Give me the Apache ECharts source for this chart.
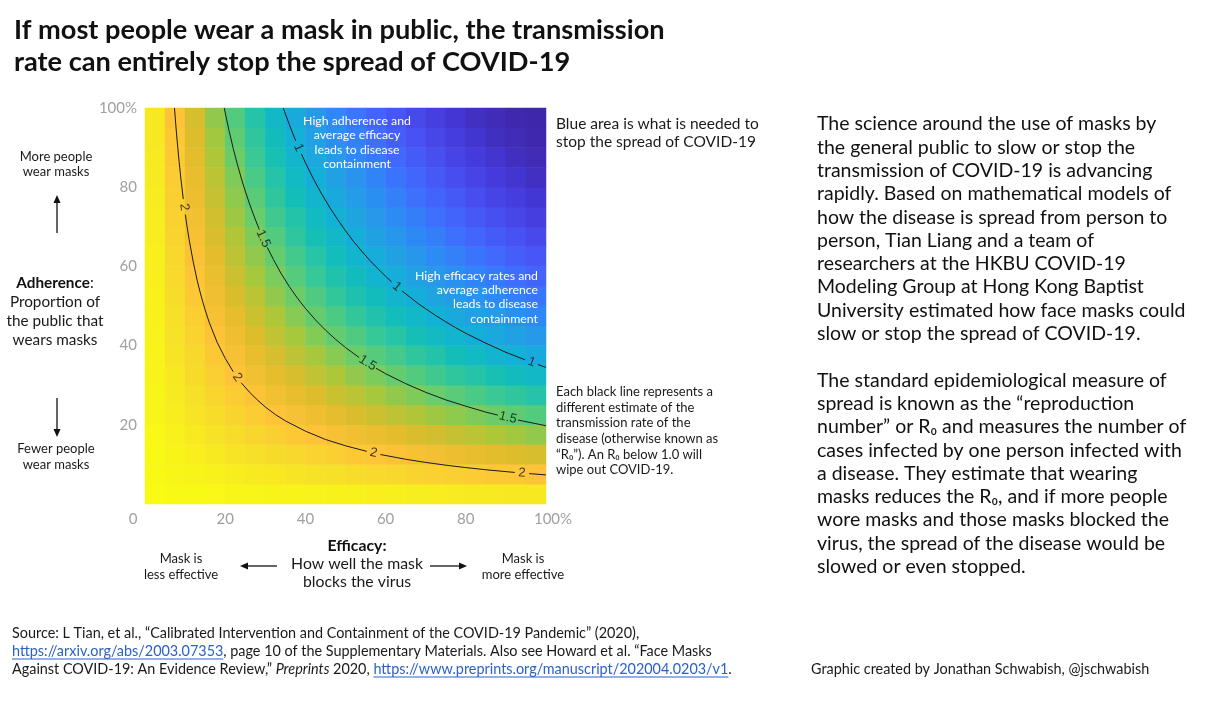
<!DOCTYPE html>
<html><head><meta charset="utf-8">
<script src="https://cdn.jsdelivr.net/npm/echarts@6/dist/echarts.min.js"></script>
<style>html,body{margin:0;padding:0;background:#fff}#c{width:1212px;height:716px}</style>
</head><body><div id="c"></div>
<script>
// ---- data ----
const efficacyCells = [2.5,7.5,12.5,17.5,22.5,27.5,32.5,37.5,42.5,47.5,52.5,57.5,62.5,67.5,72.5,77.5,82.5,87.5,92.5,97.5];
const adherenceCells = [2.5,7.5,12.5,17.5,22.5,27.5,32.5,37.5,42.5,47.5,52.5,57.5,62.5,67.5,72.5,77.5,82.5,87.5,92.5,97.5];
// R0 per cell, rows = adherence (bottom to top), columns = efficacy (left to right)
const r0Rows = [
 [2.33,2.32,2.32,2.31,2.30,2.30,2.29,2.29,2.28,2.27,2.27,2.26,2.26,2.25,2.25,2.24,2.23,2.23,2.22,2.22],
 [2.32,2.30,2.29,2.27,2.25,2.23,2.22,2.20,2.18,2.17,2.15,2.13,2.12,2.10,2.08,2.07,2.05,2.03,2.02,2.00],
 [2.32,2.29,2.26,2.23,2.20,2.17,2.14,2.12,2.09,2.06,2.03,2.01,1.98,1.95,1.93,1.90,1.87,1.85,1.82,1.80],
 [2.31,2.27,2.23,2.19,2.15,2.11,2.07,2.03,2.00,1.96,1.92,1.88,1.85,1.81,1.78,1.74,1.71,1.67,1.64,1.60],
 [2.30,2.25,2.20,2.15,2.10,2.05,2.00,1.95,1.91,1.86,1.81,1.77,1.72,1.68,1.63,1.59,1.55,1.50,1.46,1.42],
 [2.30,2.23,2.17,2.11,2.05,1.99,1.93,1.87,1.82,1.76,1.71,1.65,1.60,1.55,1.49,1.44,1.39,1.34,1.30,1.25],
 [2.29,2.22,2.14,2.07,2.00,1.93,1.86,1.80,1.73,1.67,1.60,1.54,1.48,1.42,1.36,1.30,1.25,1.19,1.14,1.09],
 [2.29,2.20,2.12,2.03,1.95,1.87,1.80,1.72,1.65,1.57,1.50,1.43,1.37,1.30,1.24,1.17,1.11,1.05,0.99,0.94],
 [2.28,2.18,2.09,2.00,1.91,1.82,1.73,1.65,1.56,1.48,1.41,1.33,1.26,1.18,1.12,1.05,0.98,0.92,0.86,0.80],
 [2.27,2.17,2.06,1.96,1.86,1.76,1.67,1.57,1.48,1.40,1.31,1.23,1.15,1.08,1.00,0.93,0.86,0.80,0.73,0.67],
 [2.27,2.15,2.03,1.92,1.81,1.71,1.60,1.50,1.41,1.31,1.22,1.14,1.05,0.97,0.89,0.82,0.75,0.68,0.62,0.56],
 [2.26,2.13,2.01,1.88,1.77,1.65,1.54,1.43,1.33,1.23,1.14,1.04,0.96,0.87,0.79,0.72,0.64,0.58,0.51,0.45],
 [2.26,2.12,1.98,1.85,1.72,1.60,1.48,1.37,1.26,1.15,1.05,0.96,0.87,0.78,0.70,0.62,0.55,0.48,0.41,0.36],
 [2.25,2.10,1.95,1.81,1.68,1.55,1.42,1.30,1.18,1.08,0.97,0.87,0.78,0.69,0.61,0.53,0.46,0.39,0.33,0.27],
 [2.25,2.08,1.93,1.78,1.63,1.49,1.36,1.24,1.12,1.00,0.89,0.79,0.70,0.61,0.52,0.45,0.38,0.31,0.25,0.20],
 [2.24,2.07,1.90,1.74,1.59,1.44,1.30,1.17,1.05,0.93,0.82,0.72,0.62,0.53,0.45,0.37,0.30,0.24,0.19,0.14],
 [2.23,2.05,1.87,1.71,1.55,1.39,1.25,1.11,0.98,0.86,0.75,0.64,0.55,0.46,0.38,0.30,0.24,0.18,0.13,0.09],
 [2.23,2.03,1.85,1.67,1.50,1.34,1.19,1.05,0.92,0.80,0.68,0.58,0.48,0.39,0.31,0.24,0.18,0.13,0.08,0.05],
 [2.22,2.02,1.82,1.64,1.46,1.30,1.14,0.99,0.86,0.73,0.62,0.51,0.41,0.33,0.25,0.19,0.13,0.08,0.05,0.02],
 [2.22,2.00,1.80,1.60,1.42,1.25,1.09,0.94,0.80,0.67,0.56,0.45,0.36,0.27,0.20,0.14,0.09,0.05,0.02,0.01]
];
// contour lines (efficacy %, adherence %); null = gap where the inline label sits
const contour2X = [7.35,7.7,8,8.5,9,9.55,null,10.05,10.5,11,12,13,14,15,16,18,20,22,null,24,26,28,30,32.5,35,40,45,50,55.3,null,58.7,65,70,75,80,85,92.2,null,95.8,100];
const contour2Y = [100,95.5,91.9,86.5,81.7,77.0,null,73.1,70.0,66.8,61.3,56.5,52.5,49.0,45.9,40.8,36.8,33.4,null,30.6,28.3,26.3,24.5,22.6,21.0,18.4,16.3,14.7,13.3,null,12.5,11.3,10.5,9.8,9.2,8.65,7.97,null,7.67,7.35];
const contour15X = [19.76,20,21,22,23,24,25,26,27,28.5,null,30.5,32,34,36,38,40,42.5,45,47.5,50,53.4,null,57.6,60,65,70,75,80,85,88,null,93,96,100];
const contour15Y = [100,98.8,94.1,89.8,85.9,82.3,79.0,76.0,73.2,69.3,null,64.8,61.8,58.1,54.9,52.0,49.4,46.5,43.9,41.6,39.5,37.0,null,34.3,32.9,30.4,28.2,26.3,24.7,23.2,22.45,null,21.2,20.6,19.76];
const contour1X = [34.49,35,36,37,37.6,null,39,40,42,44,46,48,50,52,54,56,58,60,61.5,null,64.1,66,68,70,72.5,75,77.5,80,85,90,94.8,null,98,100];
const contour1Y = [100,98.5,95.8,93.2,91.7,null,88.4,86.2,82.1,78.4,75.0,71.9,69.0,66.3,63.9,61.6,59.5,57.5,56.1,null,53.8,52.3,50.7,49.3,47.6,46.0,44.5,43.1,40.6,38.3,36.4,null,35.2,34.49];
const contourNames = ['2','1.5','1'];
const labelText = ['2','2','2','2','1.5','1.5','1.5','1','1','1'];
const labelContour = [0,0,0,0,1,1,1,2,2,2];
const labelX = [9.8,23,57,94,29.5,55.5,90.5,38.3,62.8,96.4];
const labelY = [75.0,32.0,12.9,7.82,67.0,35.6,21.8,90.0,54.9,35.8];
const axisTicks = [0,20,40,60,80,100];

// ---- styles ----
const parula = ['#3e26a8','#4539da','#4852f4','#406cfe','#2e87f7','#249ee6','#12b1d6','#12beb9','#37c897','#6bcd69','#abc739','#e1bc2b','#fec338','#f6df29','#f9fb15'];
const FONT = 'Lato, "Open Sans", sans-serif';
const GRID = {left:145, top:108, width:401, height:396, outerBoundsMode:'none'};

const contours = [{x:contour2X,y:contour2Y},{x:contour15X,y:contour15Y},{x:contour1X,y:contour1Y}];
const heatData = [];
r0Rows.forEach((row,j)=>row.forEach((v,i)=>heatData.push([i,j,v])));

function txt(x,y,text,o){
  o=o||{};
  return {type:'text', z:100, style:Object.assign({x:x,y:y,text:text,fontFamily:FONT,fontSize:12,fill:'#1a1a1a',textAlign:'left',textVerticalAlign:'top'},o)};
}
function arrow(x1,y1,x2,y2){
  const ang=Math.atan2(y2-y1,x2-x1), L=8, W=3.5;
  const bx=x2-L*Math.cos(ang), by=y2-L*Math.sin(ang);
  return [
    {type:'line', z:100, shape:{x1:x1,y1:y1,x2:bx,y2:by}, style:{stroke:'#111',lineWidth:1.3}},
    {type:'polygon', z:100, shape:{points:[[x2,y2],[bx+W*Math.sin(ang),by-W*Math.cos(ang)],[bx-W*Math.sin(ang),by+W*Math.cos(ang)]]}, style:{fill:'#111'}}
  ];
}
// measure text for link underlines
const mctx = document.createElement('canvas').getContext('2d');
function mw(t,font){mctx.font=font;return mctx.measureText(t).width;}
const FS = 14.4;
const fReg = FS+'px '+FONT, fIt = 'italic '+FS+'px '+FONT;
const link1 = 'https://arxiv.org/abs/2003.07353';
const link2 = 'https://www.preprints.org/manuscript/202004.0203/v1';
const pre3a = 'Against COVID-19: An Evidence Review,\u201d ';
const pre3b = 'Preprints';
const pre3c = ' 2020, ';
const l1w = mw(link1,fReg);
const l2x = 12 + mw(pre3a,fReg) + mw(pre3b,fIt) + mw(pre3c,fReg);
const l2w = mw(link2,fReg);
const LINK = '#2a62c9';

const graphics = [
  txt(14,14,'If most people wear a mask in public, the transmission\nrate can entirely stop the spread of COVID-19',{fontSize:27.2,fontWeight:'bold',lineHeight:32,fill:'#111'}),
  txt(817,112.4,'The science around the use of masks by\nthe general public to slow or stop the\ntransmission of COVID-19 is advancing\nrapidly. Based on mathematical models of\nhow the disease is spread from person to\nperson, Tian Liang and a team of\nresearchers at the HKBU COVID-19\nModeling Group at Hong Kong Baptist\nUniversity estimated how face masks could\nslow or stop the spread of COVID-19.\n\nThe standard epidemiological measure of\nspread is known as the \u201creproduction\nnumber\u201d or R\u2080 and measures the number of\ncases infected by one person infected with\na disease. They estimate that wearing\nmasks reduces the R\u2080, and if more people\nwore masks and those masks blocked the\nvirus, the spread of the disease would be\nslowed or even stopped.',{fontSize:19.5,lineHeight:23.3,fill:'#111'}),
  txt(556,115,'Blue area is what is needed to\nstop the spread of COVID-19',{fontSize:15.5,lineHeight:18}),
  txt(556,384.2,'Each black line represents a\ndifferent estimate of the\ntransmission rate of the\ndisease (otherwise known as\n\u201cR\u2080\u201d). An R\u2080 below 1.0 will\nwipe out COVID-19.',{fontSize:13,lineHeight:15.6}),
  txt(357,113.8,'High adherence and\naverage efficacy\nleads to disease\ncontainment',{fontSize:12.3,lineHeight:14.4,fill:'#ffffff',textAlign:'center'}),
  txt(538,268.5,'High efficacy rates and\naverage adherence\nleads to disease\ncontainment',{fontSize:12.3,lineHeight:14.4,fill:'#ffffff',textAlign:'right'}),
  txt(56,149.5,'More people\nwear masks',{fontSize:13,lineHeight:15,textAlign:'center'}),
  txt(55,273.5,'{b|Adherence}:\nProportion of\nthe public that\nwears masks',{fontSize:15.3,lineHeight:19,textAlign:'center',rich:{b:{fontFamily:FONT,fontSize:15.3,fontWeight:'bold',fill:'#111',lineHeight:19}}}),
  txt(56,441,'Fewer people\nwear masks',{fontSize:13,lineHeight:16,textAlign:'center'}),
  txt(357,537,'{b|Efficacy:}\nHow well the mask\nblocks the virus',{fontSize:15.8,lineHeight:18,textAlign:'center',rich:{b:{fontFamily:FONT,fontSize:15.8,fontWeight:'bold',fill:'#111',lineHeight:18}}}),
  txt(181,551,'Mask is\nless effective',{fontSize:13,lineHeight:16,textAlign:'center'}),
  txt(523,551,'Mask is\nmore effective',{fontSize:13,lineHeight:16,textAlign:'center'}),
  txt(12,624,'Source: L Tian, et al., \u201cCalibrated Intervention and Containment of the COVID-19 Pandemic\u201d (2020),',{fontSize:FS,lineHeight:18}),
  txt(12,642,'{a|'+link1+'}, page 10 of the Supplementary Materials. Also see Howard et al. \u201cFace Masks',{fontSize:FS,lineHeight:18,rich:{a:{fontFamily:FONT,fontSize:FS,fill:LINK,lineHeight:18}}}),
  txt(12,660,pre3a+'{i|'+pre3b+'}'+pre3c+'{a|'+link2+'}.',{fontSize:FS,lineHeight:18,rich:{a:{fontFamily:FONT,fontSize:FS,fill:LINK,lineHeight:18},i:{fontFamily:FONT,fontSize:FS,fontStyle:'italic',fill:'#1a1a1a',lineHeight:18}}}),
  txt(811,660,'Graphic created by Jonathan Schwabish, @jschwabish',{fontSize:FS,lineHeight:18}),
  {type:'line',z:100,shape:{x1:12,y1:659,x2:12+l1w,y2:659},style:{stroke:LINK,lineWidth:1.2}},
  {type:'line',z:100,shape:{x1:l2x,y1:677,x2:l2x+l2w,y2:677},style:{stroke:LINK,lineWidth:1.2}}
].concat(arrow(57,233,57,195), arrow(57,398,57,437), arrow(277,566,240,566), arrow(430,566,467,566));

const axisLabelX = {
  color:'#a0a0a0', fontFamily:FONT, fontSize:15, margin:8,
  formatter:v=>v===0?'{z|0}':(v===100?'{h|100%}':String(v)),
  rich:{z:{color:'#a0a0a0',fontFamily:FONT,fontSize:15,padding:[0,24,0,0]},h:{color:'#a0a0a0',fontFamily:FONT,fontSize:15,padding:[0,0,0,14]}}
};
const axisLabelY = {
  color:'#a0a0a0', fontFamily:FONT, fontSize:15, margin:8,
  formatter:v=>v===0?'':(v===100?'100%':String(v))
};

const series = [
  {type:'heatmap', xAxisIndex:0, yAxisIndex:0, data:heatData, itemStyle:{borderWidth:0}, emphasis:{disabled:true}, progressive:0}
];
contours.forEach((c,k)=>{
  series.push({type:'line', name:'R0 = '+contourNames[k], xAxisIndex:1, yAxisIndex:1, data:c.x.map((x,i)=>x===null?null:[x,c.y[i]]),
    showSymbol:false, symbol:'none', connectNulls:false, smooth:false,
    lineStyle:{color:'#1a1a1a',width:1}, silent:true, z:5});
});
series.push({type:'scatter', id:'labels', xAxisIndex:1, yAxisIndex:1, symbolSize:0, silent:true, z:6,
  data:labelX.map((x,i)=>({value:[x,labelY[i]], label:{formatter:labelText[i]}})),
  label:{show:true, position:'inside', color:'#111', fontFamily:'"Liberation Sans", Arial, sans-serif', fontSize:13}});

const option = {
  animation:false,
  backgroundColor:'#ffffff',
  grid:[Object.assign({},GRID),Object.assign({},GRID)],
  xAxis:[
    {type:'category', gridIndex:0, data:efficacyCells, show:false},
    {type:'value', gridIndex:1, min:axisTicks[0], max:axisTicks[axisTicks.length-1], interval:20, axisLine:{show:false}, axisTick:{show:false}, splitLine:{show:false}, axisLabel:axisLabelX}
  ],
  yAxis:[
    {type:'category', gridIndex:0, data:adherenceCells, show:false},
    {type:'value', gridIndex:1, min:axisTicks[0], max:axisTicks[axisTicks.length-1], interval:20, axisLine:{show:false}, axisTick:{show:false}, splitLine:{show:false}, axisLabel:axisLabelY}
  ],
  visualMap:{type:'continuous', show:false, min:0, max:2.33, seriesIndex:0, inRange:{color:parula}},
  graphic:{elements:graphics},
  series:series
};
const chart = echarts.init(document.getElementById('c'), null, {renderer:'canvas'});
chart.setOption(option);
// rotate inline contour labels along their line
const rot = labelX.map((lx,i)=>{
  const c = contours[labelContour[i]];
  let a=null,b=null;
  for(let k=0;k<c.x.length;k++){ if(c.x[k]===null) continue; if(c.x[k]<lx) a=k; else if(b===null) b=k; }
  const p1 = chart.convertToPixel({gridIndex:1},[c.x[a],c.y[a]]);
  const p2 = chart.convertToPixel({gridIndex:1},[c.x[b],c.y[b]]);
  return Math.atan2(-(p2[1]-p1[1]), p2[0]-p1[0])*180/Math.PI;
});
chart.setOption({series:[{id:'labels', data:labelX.map((x,i)=>({value:[x,labelY[i]], label:{formatter:labelText[i], rotate:rot[i]}}))}]});
</script></body></html>
